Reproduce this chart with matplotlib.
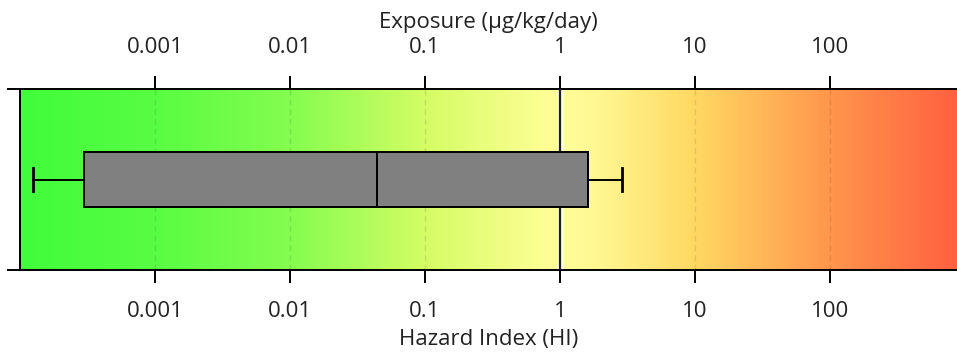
import numpy as np
import matplotlib
matplotlib.use('Agg')
import matplotlib.pyplot as plt
from matplotlib.colors import LinearSegmentedColormap
from matplotlib.ticker import FixedLocator, NullLocator

# data (log scale)
box_stats = [{
    'whislo': 1.25e-4,
    'q1': 3.0e-4,
    'med': 0.044,
    'q3': 1.6,
    'whishi': 2.9,
    'fliers': [],
}]
tick_values = [0.001, 0.01, 0.1, 1, 10, 100]
tick_labels = ['0.001', '0.01', '0.1', '1', '10', '100']
threshold = 1.0
x_min, x_max = 1e-4, 10 ** 2.94

# background gradient anchors: (log10 exposure, colour)
grad_pos = [-4.0, -3.0, -2.0, -1.0, -0.05, 0.0, 0.3, 1.0, 2.0, 2.94]
grad_col = ['#40fc3a', '#58fc42', '#84fc4e', '#d4fc64', '#fffe96',
            '#fffe9a', '#fff690', '#ffd862', '#ff964c', '#ff6140']

plt.rcParams['font.family'] = ['Open Sans', 'DejaVu Sans']
fig = plt.figure(figsize=(9.57, 3.61), dpi=100)
ax = fig.add_axes([20 / 957, 1 - 270 / 361, 937 / 957, 181 / 361])

# gradient image
lo, hi = np.log10(x_min), np.log10(x_max)
stops = [(p - lo) / (hi - lo) for p in grad_pos]
cmap = LinearSegmentedColormap.from_list('hi', list(zip(stops, grad_col)))
grad = np.linspace(0, 1, 600).reshape(1, -1)
xs = np.logspace(lo, hi, 601)
ax.pcolormesh(xs, [0, 1], grad, cmap=cmap, shading='flat', zorder=0)

ax.set_xscale('log')
ax.set_xlim(x_min, x_max)
ax.set_ylim(0, 1)

# grid
for t in tick_values:
    ax.axvline(t, color='black', alpha=0.1, lw=1, ls=(0, (4, 3)), zorder=1)
# threshold line
ax.axvline(threshold, color='white', lw=5, alpha=0.7, zorder=2)
ax.axvline(threshold, color='#202020', lw=1.6, zorder=3)

ax.bxp(box_stats, positions=[0.5], widths=0.3, vert=False,
       patch_artist=True, showfliers=False,
       boxprops=dict(facecolor='#808080', edgecolor='black', lw=1.4),
       medianprops=dict(color='black', lw=1.4),
       whiskerprops=dict(color='black', lw=1.4),
       capprops=dict(color='black', lw=2.0),
       capwidths=0.13, zorder=4)
ax.set_ylim(0, 1)
ax.set_xlim(x_min, x_max)

# ticks
ax.xaxis.set_major_locator(FixedLocator(tick_values))
ax.xaxis.set_minor_locator(NullLocator())
ax.set_xticklabels(tick_labels)
ax.tick_params(axis='x', which='major', direction='out', length=9.5,
               width=1.4, labelsize=16, pad=13, colors='black',
               top=True, labeltop=True, labelcolor='#222222')
ax.set_yticks([0, 1])
ax.set_yticklabels([])
ax.tick_params(axis='y', direction='out', length=9.5, width=1.4)

top = ax.secondary_xaxis('top')
top.set_xticks([])
top.set_xticks([], minor=True)
top.spines['top'].set_visible(False)
top.set_xlabel('Exposure (µg/kg/day)', fontsize=16, labelpad=44, color='#222222')
ax.set_xlabel('Hazard Index (HI)', fontsize=16, labelpad=5, color='#222222')

for s in ['top', 'bottom', 'left']:
    ax.spines[s].set_linewidth(1.4)
ax.spines['right'].set_visible(False)

fig.savefig('out.png', dpi=100)
